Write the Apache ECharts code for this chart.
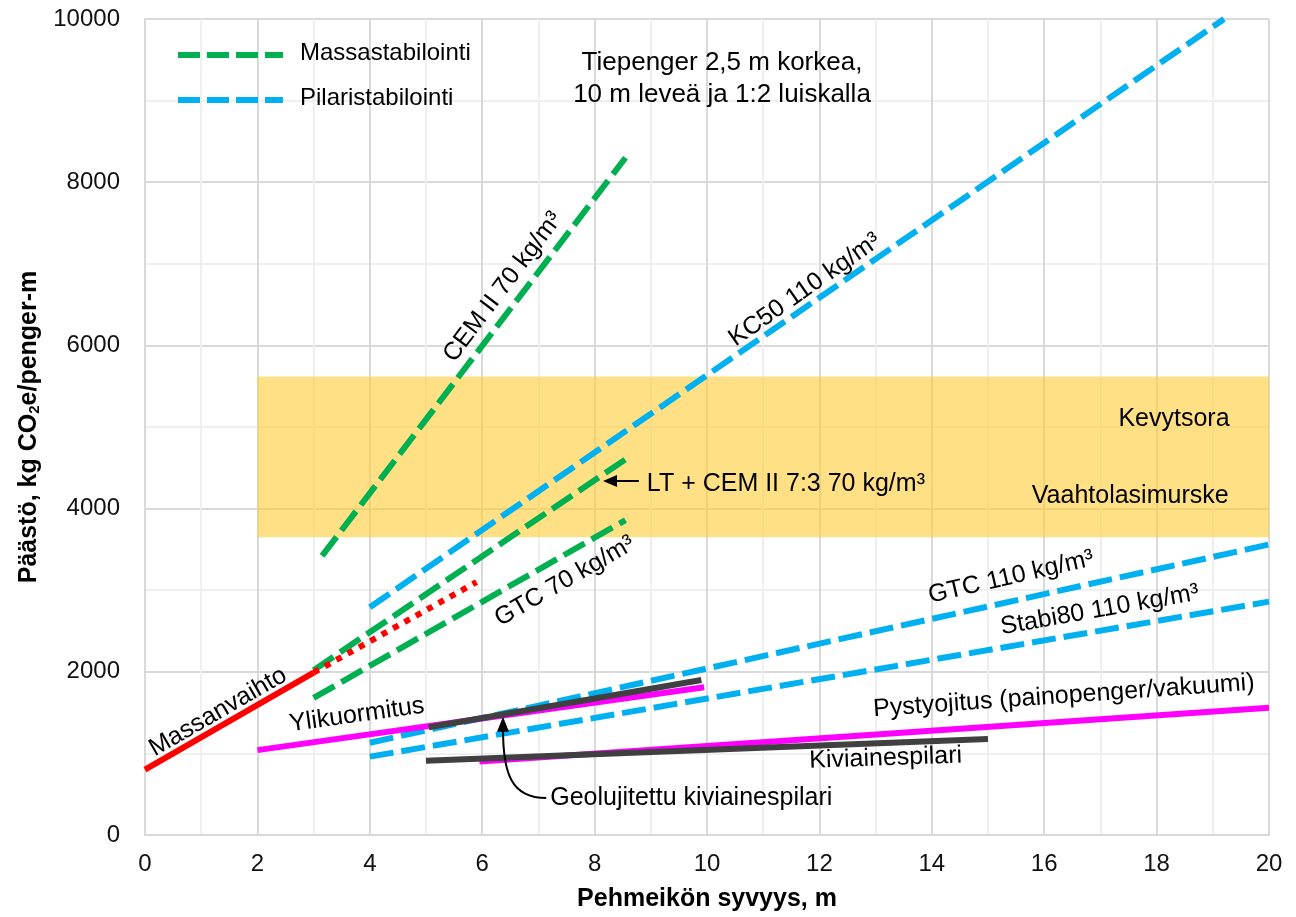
<!DOCTYPE html>
<html><head><meta charset="utf-8">
<script src="https://cdn.jsdelivr.net/npm/echarts@6/dist/echarts.min.js"></script>
<style>html,body{margin:0;padding:0;background:#fff}#c{width:1296px;height:917px}</style>
</head><body><div id="c"></div>
<script>
// ---- data ----
const xTickLabels = ['0','2','4','6','8','10','12','14','16','18','20'];
const yTickLabels = ['0','2000','4000','6000','8000','10000'];
const legendNames = ['Massastabilointi', 'Pilaristabilointi'];
const massanvaihto = [[0, 800], [3, 1990]];
const massanvaihtoJatko = [[3, 1990], [5.9, 3100]];
const ltCemII = [[3, 2020], [8.65, 4650]];
const gtc70 = [[3, 1680], [8.55, 3860]];
const cemII70 = [[3.15, 3420], [8.55, 8300]];
const kc50 = [[4, 2790], [19.2, 10000]];
const gtc110 = [[4, 1130], [20, 3560]];
const stabi80 = [[4, 960], [20, 2860]];
const ylikuormitus = [[2, 1040], [9.95, 1810]];
const geolujitettu = [[5.05, 1320], [9.9, 1900]];
const pystyojitus = [[5.95, 900], [20, 1560]];
const kiviainespilari = [[5, 910], [15, 1175]];
const kevytBand = [[2, 3650], [20, 5620]];

const FONT = "'Liberation Sans', Arial, sans-serif";
const GREEN = '#00B050', BLUE = '#00B0F0', RED = '#FF0000', MAG = '#FF00FF', GRAY = '#404040';
const DASH = [24, 8];

function ser(name, data, color, type, z) {
  return {
    type: 'line', name: name, data: data, showSymbol: false, symbol: 'none', z: z || 3,
    silent: true, animation: false,
    lineStyle: { color: color, width: 6, type: type, cap: 'butt' },
    itemStyle: { color: color }
  };
}

const chart = echarts.init(document.getElementById('c'), null, { renderer: 'canvas' });
const option = {
  animation: false,
  textStyle: { fontFamily: FONT },
  grid: { left: 145, right: 27, top: 19, bottom: 82, containLabel: false },
  xAxis: {
    type: 'value', min: 0, max: 20, interval: 1,
    name: 'Pehmeikön syvyys, m', nameLocation: 'middle', nameGap: 52,
    nameTextStyle: { fontFamily: FONT, fontSize: 25, fontWeight: 'bold', color: '#000' },
    axisLine: { show: true, lineStyle: { color: '#d9d9d9', width: 2 } },
    axisTick: { show: false },
    axisLabel: { fontFamily: FONT, fontSize: 24, color: '#111', margin: 17,
      formatter: v => (v % 2 === 0 ? xTickLabels[v / 2] : '') },
    splitLine: { show: true, lineStyle: { color: ['#d9d9d9', '#efefef'], width: 2 } }
  },
  yAxis: {
    type: 'value', min: 0, max: 10000, interval: 1000,
    name: 'Päästö, kg CO{sub|2}e/penger-m', nameLocation: 'middle', nameGap: 98, nameRotate: 90,
    nameTextStyle: { fontFamily: FONT, fontSize: 25, fontWeight: 'bold', color: '#000',
      rich: { sub: { fontFamily: FONT, fontSize: 15, fontWeight: 'bold', color: '#000', padding: [12, 0, 0, 0] } } },
    axisLine: { show: true, lineStyle: { color: '#d9d9d9', width: 2 } },
    axisTick: { show: false },
    axisLabel: { fontFamily: FONT, fontSize: 24, color: '#111', margin: 25,
      formatter: v => (v % 2000 === 0 ? yTickLabels[v / 2000] : '') },
    splitLine: { show: true, lineStyle: { color: ['#d9d9d9', '#efefef'], width: 2 } }
  },
  series: [
    { type: 'line', name: 'band', data: [], z: 1, silent: true,
      markArea: { silent: true, itemStyle: { color: 'rgba(255,204,51,0.6)' },
        data: [[{ coord: kevytBand[0] }, { coord: kevytBand[1] }]] } },
    ser('KC50 110', kc50, BLUE, DASH),
    ser('GTC 110', gtc110, BLUE, DASH),
    ser('Stabi80 110', stabi80, BLUE, DASH),
    ser('CEM II 70', cemII70, GREEN, DASH),
    ser('LT + CEM II', ltCemII, GREEN, DASH),
    ser('GTC 70', gtc70, GREEN, DASH),
    ser('Massanvaihto jatko', massanvaihtoJatko, RED, [6, 7], 4),
    ser('Massanvaihto', massanvaihto, RED, 'solid', 4),
    ser('Ylikuormitus', ylikuormitus, MAG, 'solid', 4),
    ser('Pystyojitus', pystyojitus, MAG, 'solid', 4),
    ser('Geolujitettu', geolujitettu, GRAY, 'solid', 5),
    ser('Kiviainespilari', kiviainespilari, GRAY, 'solid', 5)
  ]
};
chart.setOption(option);

// ---- annotations ----
const labels = [
  { text: 'CEM II 70 kg/m³', at: [6.37, 6715], rot: 53 },
  { text: 'KC50 110 kg/m³', at: [11.74, 6680], rot: 35 },
  { text: 'GTC 70 kg/m³', at: [7.47, 3110], rot: 30 },
  { text: 'GTC 110 kg/m³', at: [15.41, 3160], rot: 13 },
  { text: 'Stabi80 110 kg/m³', at: [16.99, 2757], rot: 10 },
  { text: 'Pystyojitus (painopenger/vakuumi)', at: [16.35, 1703], rot: 4 },
  { text: 'Kiviainespilari', at: [13.18, 940], rot: 2 },
  { text: 'Massanvaihto', at: [1.30, 1507], rot: 30 },
  { text: 'Ylikuormitus', at: [3.77, 1470], rot: 8 },
  { text: 'Kevytsora', at: [18.31, 5098], rot: 0 },
  { text: 'Vaahtolasimurske', at: [17.53, 4154], rot: 0 }
];
const px = p => chart.convertToPixel({ gridIndex: 0 }, p);
const g = [];
labels.forEach(l => {
  const p = px(l.at);
  g.push({ type: 'text', x: p[0], y: p[1], rotation: l.rot * Math.PI / 180, z: 50,
    style: { text: l.text, fontFamily: FONT, fontSize: 25, fill: '#000', align: 'center', verticalAlign: 'middle' } });
});
// legend (drawn)
[[legendNames[0], GREEN, 55], [legendNames[1], BLUE, 100]].forEach(([name, col, y]) => {
  g.push({ type: 'line', z: 50, shape: { x1: 178, y1: y, x2: 283, y2: y },
    style: { stroke: col, lineWidth: 6, lineDash: [22, 7] } });
  g.push({ type: 'text', x: 300, y: y - 2, z: 50,
    style: { text: name, fontFamily: FONT, fontSize: 24, fill: '#000', align: 'left', verticalAlign: 'middle' } });
});
// LT + CEM II arrow label
const ltText = px([8.93, 4300]);
const ltTip = px([8.15, 4338]);
g.push({ type: 'text', x: ltText[0], y: ltText[1], z: 50,
  style: { text: 'LT + CEM II 7:3 70 kg/m³', fontFamily: FONT, fontSize: 25, fill: '#000', align: 'left', verticalAlign: 'middle' } });
g.push({ type: 'line', z: 50, shape: { x1: ltText[0] - 8, y1: ltTip[1], x2: ltTip[0] + 10, y2: ltTip[1] }, style: { stroke: '#000', lineWidth: 2 } });
g.push({ type: 'polygon', z: 50, shape: { points: [[ltTip[0], ltTip[1]], [ltTip[0] + 14, ltTip[1] - 6], [ltTip[0] + 14, ltTip[1] + 6]] }, style: { fill: '#000' } });
// Geolujitettu arrow label
const geoText = px([7.21, 453]);
const geoTip = px([6.37, 1450]);
g.push({ type: 'text', x: geoText[0], y: geoText[1], z: 50,
  style: { text: 'Geolujitettu kiviainespilari', fontFamily: FONT, fontSize: 25, fill: '#000', align: 'left', verticalAlign: 'middle' } });
g.push({ type: 'bezierCurve', z: 50,
  shape: { x1: geoText[0] - 4, y1: geoText[1], cpx1: geoTip[0] + 8, cpy1: geoText[1],
           cpx2: geoTip[0], cpy2: geoText[1] - 25, x2: geoTip[0], y2: geoTip[1] + 12 },
  style: { stroke: '#000', lineWidth: 2, fill: null } });
g.push({ type: 'polygon', z: 50, shape: { points: [[geoTip[0], geoTip[1]], [geoTip[0] - 6, geoTip[1] + 15], [geoTip[0] + 6, geoTip[1] + 15]] }, style: { fill: '#000' } });
// heading
g.push({ type: 'text', x: 722, y: 79, z: 50,
  style: { text: 'Tiepenger 2,5 m korkea,\n10 m leveä ja 1:2 luiskalla', fontFamily: FONT, fontSize: 26, lineHeight: 32, fill: '#000', align: 'center', verticalAlign: 'middle' } });
chart.setOption({ graphic: { elements: g } });
</script>
</body></html>
